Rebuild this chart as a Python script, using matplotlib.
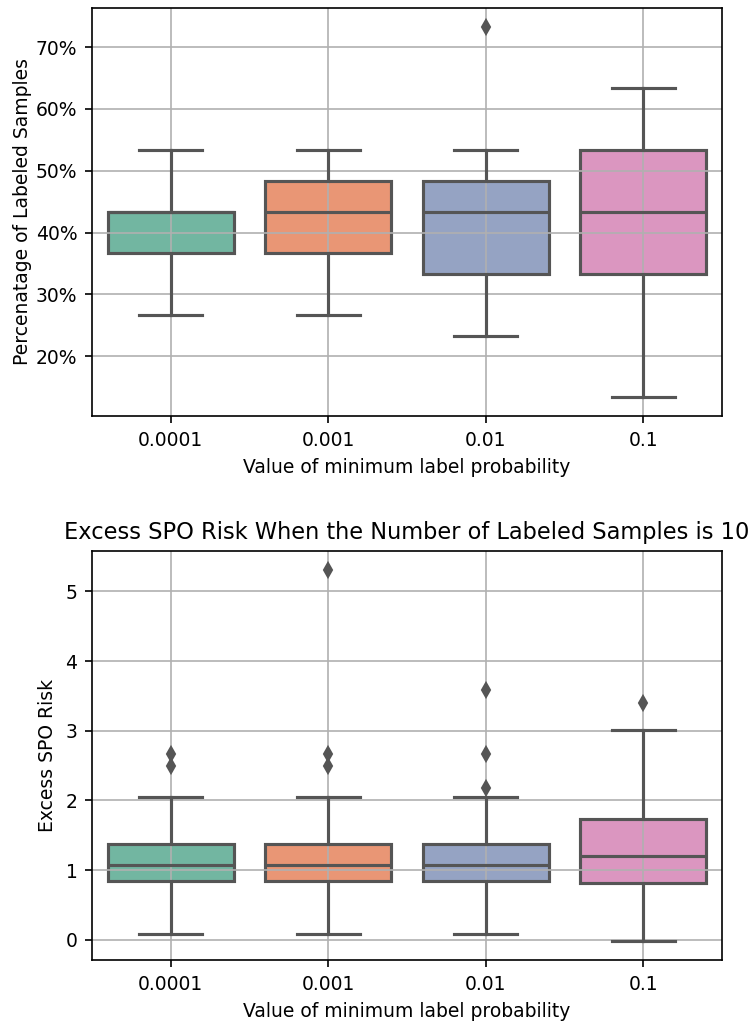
import colorsys
import matplotlib
matplotlib.use("Agg")
import matplotlib.pyplot as plt
import matplotlib.colors as mcolors
from matplotlib.ticker import PercentFormatter

# Probabilidades minimas de etiqueta (categorias del eje x)
categorias = ["0.0001", "0.001", "0.01", "0.1"]

# Porcentaje de muestras etiquetadas: resumen de cada caja
pct_q1 = [36.67, 36.67, 33.33, 33.33]
pct_med = [43.33, 43.33, 43.33, 43.33]
pct_q3 = [43.33, 48.33, 48.33, 53.33]
pct_whislo = [26.67, 26.67, 23.33, 13.33]
pct_whishi = [53.33, 53.33, 53.33, 63.33]
pct_fliers = [[], [], [73.33], []]

# Exceso de riesgo SPO: resumen de cada caja
spo_q1 = [0.84, 0.85, 0.84, 0.82]
spo_med = [1.08, 1.08, 1.08, 1.20]
spo_q3 = [1.37, 1.38, 1.38, 1.73]
spo_whislo = [0.09, 0.09, 0.09, -0.02]
spo_whishi = [2.05, 2.05, 2.05, 3.01]
spo_fliers = [[2.50, 2.66], [2.50, 2.66, 5.31], [2.18, 2.66, 3.59], [3.40]]

paleta = ["#66c2a5", "#fc8d62", "#8da0cb", "#e78ac3"]


def desaturar(color, prop=0.75):
    r, g, b = mcolors.to_rgb(color)
    h, l, s = colorsys.rgb_to_hls(r, g, b)
    return colorsys.hls_to_rgb(h, l, s * prop)


colores = [desaturar(c) for c in paleta]
gris = "#555555"


def dibujar_cajas(ax, q1, med, q3, lo, hi, fliers):
    stats = []
    for i in range(len(categorias)):
        stats.append({"q1": q1[i], "med": med[i], "q3": q3[i],
                      "whislo": lo[i], "whishi": hi[i], "fliers": fliers[i]})
    pos = list(range(len(categorias)))
    res = ax.bxp(stats, positions=pos, widths=0.8, patch_artist=True,
                 boxprops=dict(edgecolor=gris, linewidth=1.5, zorder=1),
                 medianprops=dict(color=gris, linewidth=1.5),
                 whiskerprops=dict(color=gris, linewidth=1.5),
                 capprops=dict(color=gris, linewidth=1.5),
                 flierprops=dict(marker="d", markersize=5, markerfacecolor=gris,
                                 markeredgecolor=gris, linestyle="none"))
    for caja, c in zip(res["boxes"], colores):
        caja.set_facecolor(c)
    ax.set_xticks(pos)
    ax.set_xticklabels(categorias)
    ax.set_xlim(-0.5, len(categorias) - 0.5)
    ax.grid(True)
    ax.set_xlabel("Value of minimum label probability")


fig = plt.figure(figsize=(753 / 150, 1021 / 150), dpi=150)
plt.rcParams["font.size"] = 9

ax1 = fig.add_axes([0.1222, 0.5926, 0.8367, 0.3996])
dibujar_cajas(ax1, pct_q1, pct_med, pct_q3, pct_whislo, pct_whishi, pct_fliers)
ax1.yaxis.set_major_formatter(PercentFormatter(decimals=0))
ax1.set_yticks([20, 30, 40, 50, 60, 70])
ax1.set_ylim(10.33, 76.33)
ax1.set_ylabel("Percenatage of Labeled Samples", labelpad=2)

ax2 = fig.add_axes([0.1222, 0.0597, 0.8367, 0.4006])
dibujar_cajas(ax2, spo_q1, spo_med, spo_q3, spo_whislo, spo_whishi, spo_fliers)
ax2.set_ylim(-0.29, 5.58)
ax2.set_ylabel("Excess SPO Risk")
ax2.set_title("Excess SPO Risk When the Number of Labeled Samples is 10", fontsize=10.8)

fig.savefig("out.png", dpi=150)
plt.close(fig)
